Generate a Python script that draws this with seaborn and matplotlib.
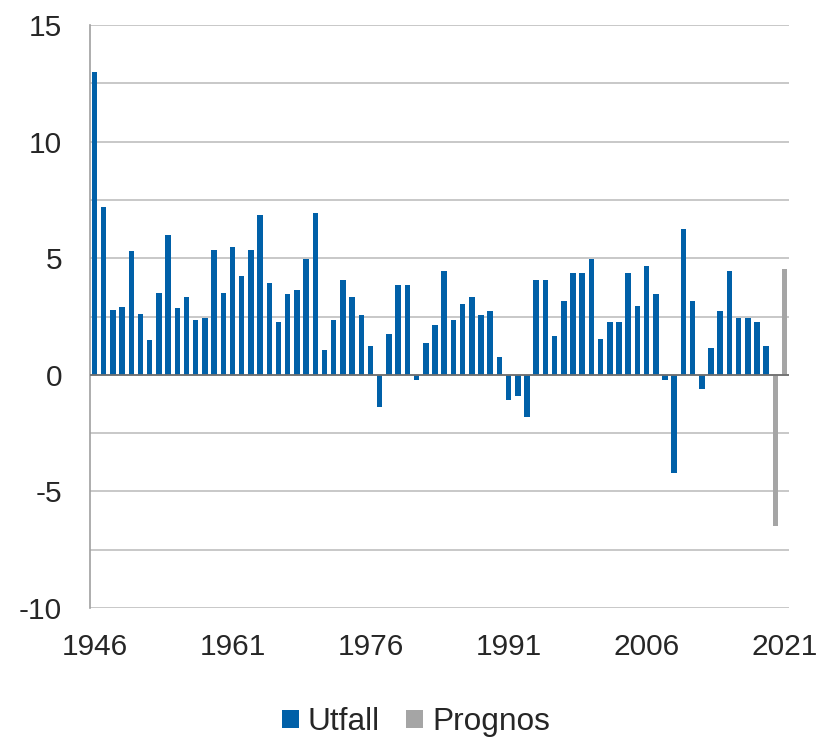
import numpy as np
import pandas as pd
import matplotlib
matplotlib.use("Agg")
import matplotlib.pyplot as plt
import seaborn as sns
from matplotlib.patches import Patch

years = list(range(1946, 2022))
utfall = [13.0, 7.2, 2.8, 2.9, 5.3, 2.6, 1.5, 3.5, 6.0, 2.85, 3.35, 2.35, 2.45, 5.35, 3.5,
          5.5, 4.25, 5.35, 6.85, 3.95, 2.25, 3.45, 3.65, 4.95, 6.95, 1.05, 2.35, 4.05, 3.35,
          2.55, 1.25, -1.4, 1.75, 3.85, 3.85, -0.2, 1.35, 2.15, 4.45, 2.35, 3.05, 3.35, 2.55,
          2.75, 0.75, -1.1, -0.9, -1.8, 4.05, 4.05, 1.65, 3.15, 4.35, 4.35, 4.95, 1.55, 2.25,
          2.25, 4.35, 2.95, 4.65, 3.45, -0.2, -4.2, 6.25, 3.15, -0.6, 1.15, 2.75, 4.45, 2.45,
          2.45, 2.25, 1.25]
prognos = [-6.5, 4.55]
series = ["Utfall", "Prognos"]
colors = ["#0060A8", "#A5A5A5"]
xtick_years = [1946, 1961, 1976, 1991, 2006, 2021]

df = pd.DataFrame({
    "year": [str(y) for y in years],
    "value": utfall + prognos,
    "typ": [series[0]] * len(utfall) + [series[1]] * len(prognos),
})

sns.set_theme(style="white")
plt.rcParams["font.family"] = ["Liberation Sans", "DejaVu Sans"]

fig = plt.figure(figsize=(8.17, 7.37), dpi=100)
ax = fig.add_axes([0.110, 0.175, 0.856, 0.791])

sns.barplot(data=df, x="year", y="value", hue="typ", order=[str(y) for y in years],
            hue_order=series, palette=colors, dodge=False, width=0.6,
            saturation=1, ax=ax, legend=False, zorder=2, linewidth=0)

ax.set_xlim(-0.5, len(years) - 0.5)
ax.set_ylim(-10, 15)
yt = np.arange(-10, 15.01, 2.5)
ax.set_yticks(yt)
ax.set_yticklabels([("%d" % v if v % 5 == 0 else "") for v in yt], fontsize=21.5)
ax.set_xticks([years.index(y) for y in xtick_years])
ax.set_xticklabels([str(y) for y in xtick_years], fontsize=21.5)
ax.tick_params(axis="y", length=0, pad=20)
ax.tick_params(axis="x", length=0, pad=18)
ax.yaxis.grid(True, color="#BFBFBF", linewidth=1.2, zorder=0)
ax.set_axisbelow(True)
ax.axhline(0, color="#707070", linewidth=1.3, zorder=3)
ax.set_xlabel("")
ax.set_ylabel("")
for s in ["top", "right", "bottom"]:
    ax.spines[s].set_visible(False)
ax.spines["left"].set_color("#A0A0A0")
ax.spines["left"].set_linewidth(1.2)

handles = [Patch(facecolor=c, edgecolor="none", label=l) for c, l in zip(colors, series)]
fig.legend(handles=handles, loc="center", bbox_to_anchor=(0.509, 0.02), ncol=2,
           frameon=False, fontsize=22.8, handlelength=0.53, handleheight=0.53,
           handletextpad=0.28, columnspacing=0.85)

fig.savefig("out.png", dpi=100)
